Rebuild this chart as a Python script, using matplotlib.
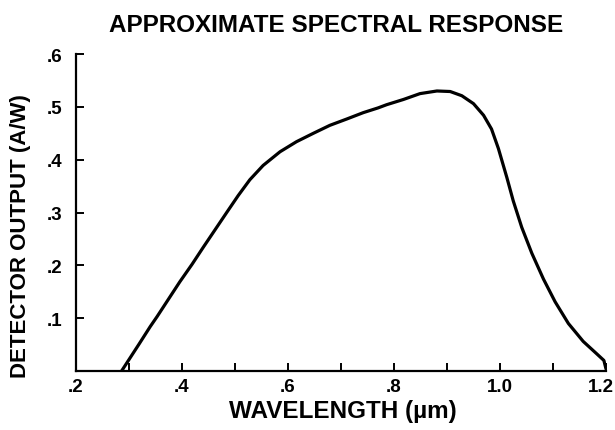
import matplotlib
matplotlib.use("Agg")
import matplotlib.pyplot as plt
import matplotlib.transforms as mtransforms
from matplotlib.ticker import FixedLocator, FixedFormatter

# Data
wavelength = [0.286, 0.319, 0.340, 0.353, 0.396, 0.419, 0.440, 0.485, 0.506, 0.528,
              0.553, 0.585, 0.616, 0.648, 0.679, 0.711, 0.742, 0.770, 0.786, 0.818,
              0.849, 0.881, 0.906, 0.928, 0.950, 0.969, 0.984, 0.997, 1.013, 1.025,
              1.041, 1.060, 1.082, 1.104, 1.129, 1.157, 1.182, 1.196, 1.200]
response = [0.000, 0.051, 0.084, 0.103, 0.169, 0.202, 0.234, 0.301, 0.332, 0.362,
            0.389, 0.415, 0.434, 0.450, 0.465, 0.477, 0.489, 0.498, 0.504, 0.514,
            0.525, 0.530, 0.529, 0.521, 0.506, 0.484, 0.458, 0.421, 0.366, 0.322,
            0.272, 0.223, 0.174, 0.131, 0.090, 0.056, 0.033, 0.020, 0.004]

x_major = [0.2, 0.4, 0.6, 0.8, 1.0, 1.2]
x_major_labels = [".2", ".4", ".6", ".8", "1.0", "1.2"]
x_minor = [0.3, 0.5, 0.7, 0.9, 1.1]
y_ticks = [0.1, 0.2, 0.3, 0.4, 0.5, 0.6]
y_labels = [".1", ".2", ".3", ".4", ".5", ".6"]

plt.rcParams['font.family'] = ['Liberation Sans', 'DejaVu Sans']
plt.rcParams['font.weight'] = 'bold'

fig = plt.figure(figsize=(6.15, 4.31), dpi=100)
ax = fig.add_axes([76/615, 1-372/431, (606-76)/615, (372-55)/431])

ax.plot(wavelength, response, color='black', lw=2.3, solid_joinstyle='round',
        solid_capstyle='round')

ax.set_xlim(0.2, 1.2)
ax.set_ylim(0, 0.6)

ax.spines['top'].set_visible(False)
ax.spines['right'].set_visible(False)
for s in ('left', 'bottom'):
    ax.spines[s].set_linewidth(1.6)

ax.xaxis.set_major_locator(FixedLocator(x_major))
ax.xaxis.set_major_formatter(FixedFormatter(x_major_labels))
ax.xaxis.set_minor_locator(FixedLocator(x_minor))
ax.yaxis.set_major_locator(FixedLocator(y_ticks))
ax.yaxis.set_major_formatter(FixedFormatter(y_labels))

ax.tick_params(axis='both', which='both', direction='in', length=6, width=1.4,
               labelsize=13.5)
ax.tick_params(axis='x', pad=5)
ax.tick_params(axis='y', pad=10)
for lab in ax.get_xticklabels() + ax.get_yticklabels():
    lab.set_fontweight('bold')

# nudge the last x tick label so it stays inside the canvas
last_tick = ax.xaxis.get_major_ticks()[-1]
offset = mtransforms.ScaledTranslation(-5/100, 0, fig.dpi_scale_trans)
last_tick.label1.set_transform(last_tick.label1.get_transform() + offset)

ax.set_xlabel("WAVELENGTH (µm)", fontsize=17.5, fontweight='bold')
ax.xaxis.set_label_coords(0.503, -0.088)
ax.set_ylabel("DETECTOR OUTPUT (A/W)", fontsize=16, fontweight='bold')
ax.yaxis.set_label_coords(-0.085, 0.43)
fig.text(336/615, 1-26/431, "APPROXIMATE SPECTRAL RESPONSE", ha='center', va='center',
         fontsize=17.5, fontweight='bold')

fig.savefig("out.png", dpi=100)
